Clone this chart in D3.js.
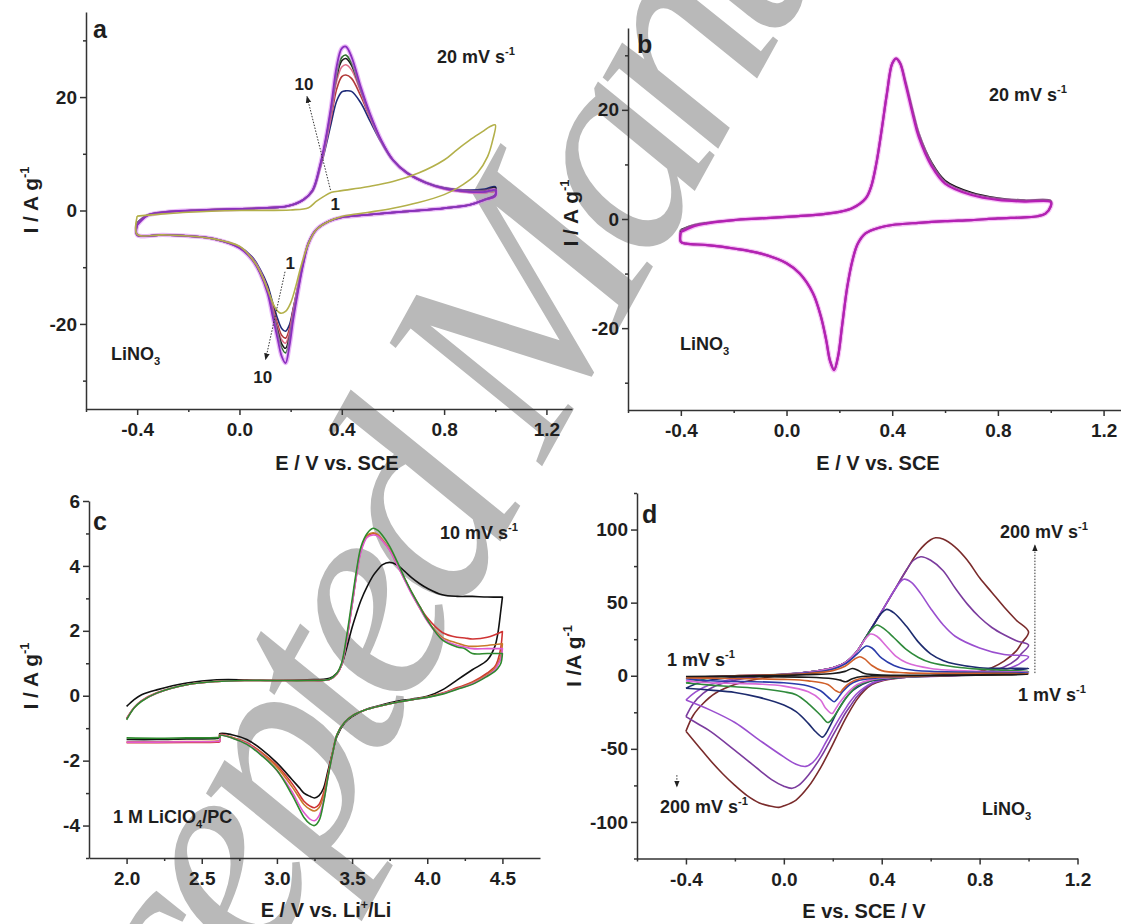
<!DOCTYPE html>
<html><head><meta charset="utf-8">
<script src="https://cdn.jsdelivr.net/npm/d3@7"></script>
<style>
body{margin:0;background:#fff}
svg{display:block}
text{font-family:"Liberation Sans",Arial,sans-serif;font-weight:bold;fill:#1e1e1e}
.axis path,.axis line{stroke:#333;stroke-width:1.5}
.axis text{font-size:19px;font-family:"Liberation Sans",Arial,sans-serif;font-weight:bold;fill:#1e1e1e}
</style>
</head><body>
<svg id="chart" width="1121" height="924"></svg>
<script>
// ---------- Panel a : cycles 1..10, 20 mV/s, LiNO3 ----------
const aFwdE = [-0.4,-0.36,-0.29,-0.19,-0.07,0.075,0.19,0.25,0.286,0.314,0.336,0.358,0.38,0.40,0.416,0.438,0.474,0.51,0.554,0.6,0.655,0.728,0.8,0.9,0.96,1.0];
const aRevE = [1.0,0.96,0.9,0.8,0.7,0.6,0.5,0.4,0.35,0.3,0.27,0.25,0.23,0.21,0.195,0.18,0.165,0.15,0.13,0.11,0.08,0.05,0.0,-0.1,-0.2,-0.3,-0.4];
const aNavyFwd   = [-2.2,-0.8,-0.25,0,0.2,0.4,0.8,1.9,3.4,7.2,11.0,15.3,19.3,20.9,21.1,21.0,19.0,15.8,12.0,8.8,6.6,4.9,4.0,3.6,3.8,4.2];
const aNavyRev   = [2.8,2.0,1.0,0.4,0,-0.35,-0.76,-1.2,-1.9,-3.4,-5.6,-8.8,-13,-17.3,-20.2,-21.3,-20.8,-19.2,-16.3,-13.2,-10.3,-8.2,-6.4,-5,-4.5,-4.3,-4.3];
const aRedFwd    = [-2.5,-0.9,-0.3,0,0.2,0.4,0.8,1.9,3.5,7.4,11.5,16.3,21.4,23.6,23.9,23.3,20.2,16.4,12.2,8.9,6.6,4.9,3.8,3.2,3.1,3.3];
const aRedRev    = [2.5,1.9,1.0,0.4,0,-0.35,-0.76,-1.2,-1.9,-3.4,-5.7,-8.9,-13.1,-17.5,-20.9,-22.5,-22.0,-20.2,-17.0,-13.7,-10.6,-8.4,-6.5,-5,-4.5,-4.3,-4.3];
const aPinkFwd   = [-2.5,-0.9,-0.3,0,0.2,0.4,0.8,1.9,3.5,7.5,11.8,17.0,22.8,25.3,25.7,24.8,20.9,16.7,12.3,8.9,6.6,4.9,3.8,3.2,3.1,3.3];
const aPinkRev   = [2.5,1.9,1.0,0.4,0,-0.35,-0.76,-1.2,-1.9,-3.4,-5.7,-9.0,-13.3,-17.9,-21.6,-23.4,-22.8,-20.8,-17.4,-13.9,-10.7,-8.5,-6.5,-5,-4.5,-4.3,-4.3];
const aBlackFwd  = [-2.2,-0.8,-0.25,0,0.2,0.4,0.8,1.9,3.5,7.6,12.0,17.5,23.6,26.4,26.8,25.6,21.2,16.8,12.3,8.9,6.7,5.0,4.0,3.5,3.6,4.0];
const aBlackRev  = [2.8,2.0,1.0,0.4,0,-0.35,-0.76,-1.2,-1.9,-3.4,-5.7,-9.1,-13.5,-18.3,-22.3,-24.3,-23.5,-21.3,-17.8,-14.1,-10.8,-8.5,-6.5,-5,-4.5,-4.3,-4.3];
const aGreenFwd  = [-2.5,-0.9,-0.3,0,0.2,0.4,0.8,1.9,3.6,7.7,12.2,17.8,24.2,27.0,27.4,26.0,21.4,16.9,12.3,8.9,6.6,4.9,3.9,3.3,3.2,3.4];
const aGreenRev  = [2.5,1.9,1.0,0.4,0,-0.35,-0.76,-1.2,-1.9,-3.4,-5.8,-9.2,-13.7,-18.7,-22.9,-25.1,-24.2,-21.8,-18.1,-14.3,-10.9,-8.6,-6.6,-5,-4.5,-4.3,-4.3];
const aPurpleFwd = [-2.6,-0.9,-0.3,0,0.2,0.4,0.8,1.9,3.6,7.8,12.4,18.3,25.4,28.6,28.9,27.1,21.8,17.1,12.4,8.9,6.6,4.9,3.9,3.3,3.3,3.6];
const aPurpleRev = [2.6,1.9,1.0,0.4,0,-0.35,-0.76,-1.2,-1.9,-3.4,-5.8,-9.3,-14,-19.3,-24,-26.9,-25.7,-22.8,-18.7,-14.6,-11,-8.7,-6.6,-5,-4.5,-4.3,-4.3];
const aCyc1FwdE = [-0.4,-0.3,-0.2,0,0.2,0.27,0.3,0.33,0.36,0.4,0.5,0.6,0.7,0.8,0.85,0.9,0.95,0.98,1.0];
const aCyc1FwdI = [-1.0,-0.6,-0.3,0,0.1,0.5,1.6,2.5,3.2,3.5,4.2,5.1,6.6,8.9,10.7,12.4,13.9,14.8,15.1];
const aCyc1RevE = [0.99,0.97,0.93,0.9,0.85,0.8,0.7,0.6,0.5,0.4,0.35,0.3,0.27,0.24,0.22,0.2,0.18,0.16,0.14,0.12,0.1,0.07,0.03,0,-0.1,-0.2,-0.3,-0.4];
const aCyc1RevI = [12.4,9.5,6.6,5.4,3.9,2.8,1.4,0.4,-0.35,-1.06,-1.9,-3.4,-5.8,-9.9,-13.4,-16.3,-17.8,-18.1,-17.2,-15.1,-12.8,-9.9,-7.5,-6.3,-5,-4.5,-4.3,-4.2];

// ---------- Panel b : 20 mV/s, LiNO3 ----------
const bFwdE = [-0.4,-0.35,-0.3,-0.2,-0.1,0,0.1,0.2,0.25,0.3,0.32,0.34,0.36,0.38,0.4,0.415,0.43,0.45,0.48,0.5,0.55,0.6,0.7,0.8,0.9,1.0];
const bRevE = [1.0,0.98,0.95,0.9,0.8,0.7,0.6,0.5,0.4,0.35,0.3,0.27,0.25,0.23,0.21,0.195,0.18,0.165,0.15,0.13,0.1,0.05,0.0,-0.1,-0.2,-0.3,-0.38,-0.4];
const bBlackFwd   = [-2.0,-1.1,-0.7,-0.2,0.1,0.4,0.7,1.3,2.0,3.8,5.9,10.2,16.3,23,28.5,29.4,28.6,25.2,19.3,15.7,10.2,7.0,4.8,3.8,3.4,3.3];
const bBlackRev   = [2.3,1.0,0.5,0.3,0.1,-0.2,-0.4,-0.7,-1.1,-1.6,-2.6,-4.5,-7.5,-12.4,-19.7,-25.2,-27.6,-26.0,-22.1,-17.8,-13.6,-10,-8.1,-6.3,-5.4,-4.8,-4.5,-4.2];
const bMagentaFwd = [-2.4,-1.3,-0.8,-0.2,0.1,0.4,0.7,1.3,2.0,3.8,5.9,10.2,16.3,23,28.5,29.4,28.5,24.8,18.7,15.1,9.6,6.5,4.4,3.5,3.2,3.1];
const bMagentaRev = [2.3,1.0,0.5,0.3,0.1,-0.2,-0.4,-0.7,-1.1,-1.6,-2.6,-4.5,-7.5,-12.4,-19.7,-25.2,-27.7,-26.1,-22.2,-17.9,-13.6,-10,-8.1,-6.3,-5.4,-4.8,-4.5,-4.2];

// ---------- Panel c : 10 mV/s, 1 M LiClO4/PC ----------
const cFwdE = [2.0,2.05,2.1,2.2,2.4,2.6,2.8,3.0,3.2,3.35,3.4,3.43,3.46,3.5,3.53,3.56,3.6,3.64,3.67,3.7,3.75,3.8,3.85,3.9,3.95,4.0,4.1,4.2,4.25,4.3,4.4,4.5];
const cRevE = [4.5,4.49,4.47,4.45,4.4,4.3,4.2,4.1,4.0,3.9,3.8,3.7,3.6,3.5,3.45,3.4,3.37,3.34,3.31,3.28,3.25,3.22,3.18,3.15,3.1,3.0,2.9,2.8,2.7,2.62,2.62,2.6,2.4,2.2,2.0];
const cBlackFwd  = [-0.33,-0.12,0.03,0.18,0.39,0.49,0.49,0.47,0.49,0.54,0.7,0.95,1.4,2.1,2.55,2.95,3.36,3.7,3.88,4.03,4.11,4.03,3.83,3.62,3.45,3.31,3.11,3.06,3.06,3.06,3.04,3.04];
const cBlackRev  = [3.04,2.65,1.93,1.52,1.1,0.8,0.49,0.18,-0.02,-0.1,-0.17,-0.28,-0.41,-0.64,-0.84,-1.25,-1.76,-2.3,-2.85,-3.08,-3.15,-3.1,-3.0,-2.84,-2.58,-2.07,-1.66,-1.35,-1.2,-1.17,-1.3,-1.32,-1.33,-1.35,-1.35];
const cRedFwd    = [-0.7,-0.36,-0.15,0.09,0.34,0.44,0.47,0.47,0.47,0.5,0.68,0.95,1.6,2.8,3.75,4.5,4.92,5.0,4.95,4.8,4.5,4.05,3.6,3.15,2.75,2.4,1.95,1.8,1.78,1.75,1.8,1.98];
const cRedRev    = [1.98,1.5,1.1,0.9,0.7,0.42,0.25,0.08,-0.04,-0.12,-0.2,-0.3,-0.42,-0.62,-0.82,-1.2,-1.75,-2.4,-3.0,-3.35,-3.45,-3.4,-3.25,-3.05,-2.7,-2.15,-1.75,-1.45,-1.28,-1.2,-1.42,-1.43,-1.44,-1.45,-1.45];
const cOrangeFwd = [-0.72,-0.37,-0.16,0.08,0.34,0.44,0.47,0.47,0.47,0.5,0.68,0.95,1.62,2.82,3.78,4.52,4.94,5.02,4.97,4.82,4.5,4.05,3.58,3.12,2.7,2.32,1.8,1.62,1.55,1.52,1.55,1.6];
const cOrangeRev = [1.6,1.25,1.0,0.85,0.65,0.4,0.22,0.07,-0.04,-0.12,-0.2,-0.3,-0.42,-0.62,-0.82,-1.2,-1.78,-2.45,-3.1,-3.45,-3.55,-3.5,-3.35,-3.15,-2.8,-2.2,-1.78,-1.47,-1.29,-1.21,-1.38,-1.4,-1.41,-1.42,-1.42];
const cPinkFwd   = [-0.72,-0.37,-0.16,0.08,0.34,0.44,0.47,0.47,0.47,0.5,0.68,0.95,1.6,2.78,3.72,4.45,4.88,4.95,4.92,4.78,4.48,4.03,3.56,3.1,2.7,2.3,1.75,1.55,1.5,1.45,1.45,1.45];
const cPinkRev   = [1.45,1.15,0.95,0.8,0.62,0.37,0.21,0.06,-0.05,-0.12,-0.2,-0.3,-0.42,-0.62,-0.82,-1.2,-1.8,-2.5,-3.25,-3.7,-3.85,-3.8,-3.6,-3.38,-2.95,-2.3,-1.82,-1.48,-1.3,-1.22,-1.4,-1.41,-1.42,-1.43,-1.43];
const cGreenFwd  = [-0.74,-0.38,-0.17,0.08,0.34,0.44,0.47,0.47,0.47,0.51,0.7,1.0,1.72,2.95,3.88,4.6,5.0,5.16,5.1,4.95,4.6,4.13,3.62,3.16,2.75,2.34,1.72,1.5,1.45,1.3,1.3,1.3];
const cGreenRev  = [1.3,1.0,0.85,0.75,0.6,0.35,0.2,0.05,-0.05,-0.12,-0.2,-0.3,-0.42,-0.62,-0.82,-1.2,-1.8,-2.5,-3.3,-3.85,-4.0,-3.95,-3.75,-3.5,-3.05,-2.3,-1.85,-1.5,-1.3,-1.22,-1.28,-1.29,-1.3,-1.31,-1.3];

// ---------- Panel d : 1 .. 200 mV/s, LiNO3 ([E, I] pairs, forward then reverse) ----------
const d200 = [[-0.4,-38],[-0.37,-27],[-0.33,-19],[-0.28,-12],[-0.2,-6],[-0.1,-2],[0,0.5],[0.1,2.5],[0.2,5.5],[0.25,9],[0.3,17],[0.33,25],[0.36,33],[0.4,44],[0.45,58],[0.5,72],[0.55,85],[0.6,93],[0.62,94.4],[0.65,93.5],[0.7,88],[0.75,79],[0.8,67],[0.85,57],[0.9,47],[0.95,38],[1.0,30],
  [0.97,22],[0.95,17],[0.9,10],[0.85,5.5],[0.8,3],[0.7,1],[0.6,0],[0.5,-1],[0.45,-2],[0.4,-3.5],[0.36,-6],[0.33,-10],[0.3,-16],[0.27,-24],[0.25,-30],[0.22,-40],[0.2,-47],[0.15,-63],[0.1,-76],[0.05,-85],[0,-89],[-0.02,-90],[-0.06,-89],[-0.1,-87],[-0.15,-82],[-0.2,-75],[-0.25,-67],[-0.3,-58],[-0.35,-48],[-0.4,-38]];
const d150 = [[-0.4,-28],[-0.37,-19],[-0.33,-12],[-0.28,-7],[-0.2,-3],[-0.1,-0.5],[0,1],[0.1,2.5],[0.2,5.5],[0.25,9],[0.3,17],[0.33,25],[0.36,33],[0.4,44],[0.45,58],[0.5,72],[0.53,79],[0.56,81.4],[0.6,79],[0.65,72],[0.7,60],[0.75,49],[0.8,40],[0.85,33],[0.9,28],[0.95,24],[1.0,21],
  [0.97,15],[0.95,11],[0.9,6],[0.8,2],[0.6,0],[0.5,-1],[0.4,-3],[0.36,-5.5],[0.33,-9],[0.3,-14],[0.27,-21],[0.25,-26],[0.22,-35],[0.2,-41],[0.15,-56],[0.1,-68],[0.06,-75],[0.034,-77],[0,-75.5],[-0.05,-71],[-0.1,-64.5],[-0.2,-51],[-0.3,-38],[-0.35,-33],[-0.4,-28]];
const d100 = [[-0.4,-16.6],[-0.36,-11],[-0.3,-6],[-0.2,-2],[-0.1,0],[0,1],[0.1,2.5],[0.2,5.5],[0.25,9],[0.3,17],[0.33,25],[0.36,33],[0.4,44],[0.45,58],[0.49,66],[0.52,64],[0.56,56],[0.6,46],[0.65,35],[0.7,27],[0.8,19],[0.9,14.5],[1.0,13],
  [0.97,9],[0.95,7],[0.9,4],[0.8,1.5],[0.7,0],[0.5,-1],[0.4,-3],[0.36,-5],[0.33,-8],[0.3,-12],[0.27,-18],[0.25,-23],[0.22,-31],[0.2,-37],[0.17,-46],[0.14,-55],[0.12,-59],[0.09,-62],[0.05,-60.5],[0,-55.5],[-0.1,-44],[-0.2,-32],[-0.3,-23.5],[-0.4,-16.6]];
const d50 = [[-0.4,-8.5],[-0.35,-5],[-0.3,-3],[-0.2,-1],[0,1],[0.1,2.5],[0.2,5.5],[0.25,9],[0.3,17],[0.33,25],[0.36,33],[0.4,43],[0.42,45.4],[0.45,43],[0.5,34],[0.55,23],[0.6,15],[0.65,10.5],[0.7,8],[0.8,5.5],[0.9,5],[1.0,5],
  [0.95,4],[0.9,2.5],[0.8,1],[0.6,0],[0.5,-0.8],[0.4,-2.5],[0.35,-4],[0.3,-8],[0.27,-12],[0.25,-16],[0.22,-24],[0.19,-34],[0.17,-40],[0.158,-42],[0.13,-38.3],[0.1,-32.6],[0.05,-24.6],[0,-20],[-0.1,-14.8],[-0.2,-11.4],[-0.3,-9.8],[-0.4,-8.5]];
const d30 = [[-0.4,-5],[-0.3,-1.5],[-0.2,0],[0,1],[0.1,2.5],[0.2,5.5],[0.25,9],[0.3,17],[0.33,25],[0.36,32],[0.38,34.7],[0.41,32],[0.45,26],[0.5,18],[0.55,12.5],[0.6,9],[0.7,6],[0.8,4.5],[1.0,3],
  [0.95,2.5],[0.8,1],[0.6,-0.3],[0.4,-2],[0.35,-3.5],[0.3,-7],[0.26,-14],[0.22,-24],[0.2,-29],[0.18,-32],[0.15,-27],[0.1,-19],[0.05,-13],[0,-11],[-0.1,-8.7],[-0.2,-7.5],[-0.3,-6.4],[-0.4,-5]];
const d20 = [[-0.4,-3.5],[-0.3,-1],[-0.2,0],[0,1],[0.1,2.5],[0.2,5.5],[0.25,9],[0.3,17],[0.33,24.5],[0.355,28.5],[0.38,27],[0.42,20],[0.46,13],[0.5,9],[0.6,5],[0.8,3],[1.0,2.5],
  [0.95,2],[0.8,1],[0.6,-0.3],[0.45,-1],[0.35,-3],[0.3,-6],[0.27,-10],[0.23,-18],[0.21,-23],[0.197,-25.8],[0.17,-22],[0.15,-16.6],[0.1,-11],[0,-7.1],[-0.1,-5.7],[-0.3,-4.8],[-0.4,-3.5]];
const d10 = [[-0.4,-2],[-0.3,-0.5],[0,0.8],[0.1,2],[0.2,4.5],[0.25,8],[0.3,15],[0.337,20.3],[0.36,19],[0.4,12],[0.45,7],[0.5,4.5],[0.6,3],[1.0,2],
  [0.95,1.5],[0.8,0.5],[0.5,-0.5],[0.35,-2],[0.3,-3.5],[0.27,-6],[0.24,-11],[0.22,-15.5],[0.206,-17.8],[0.19,-16],[0.15,-10.3],[0.1,-7],[0,-4.8],[-0.3,-3.4],[-0.4,-2]];
const d5 = [[-0.4,-1.5],[-0.2,0],[0,0.8],[0.1,1.5],[0.2,3.5],[0.25,6.5],[0.29,11.5],[0.311,13],[0.33,11.5],[0.36,7],[0.4,3.5],[0.5,2],[1.0,1.5],
  [0.95,1],[0.6,0],[0.5,-0.5],[0.33,-1.5],[0.29,-3],[0.26,-6],[0.24,-9.5],[0.23,-11.4],[0.21,-10],[0.18,-6],[0.1,-3.5],[0,-2.5],[-0.4,-1.5]];
const d1 = [[-0.4,-0.5],[0,0.3],[0.1,0.8],[0.2,1.5],[0.25,3],[0.28,5],[0.3,4],[0.33,1.5],[0.4,0.5],[1.0,1],
  [0.9,0.5],[0.5,0],[0.32,-0.5],[0.28,-2],[0.253,-4.1],[0.23,-3],[0.2,-2],[0.1,-1],[-0.4,-0.5]];

// tick values
const tickE_SCE = [-0.4,0.0,0.4,0.8,1.2];
const tickE_Li = [2.0,2.5,3.0,3.5,4.0,4.5];
const tickI_ab = [-20,0,20];
const tickI_c = [-4,-2,0,2,4,6];
const tickI_d = [-100,-50,0,50,100];

// ================= drawing =================
const svg = d3.select("#chart");
const zip = (E, I) => E.map((e, i) => [e, I[i]]);

// watermark (behind everything)
svg.append("text")
  .attr("transform", "translate(80,1300) rotate(-61)")
  .attr("text-anchor", "start")
  .style("font-family", '"Liberation Serif","Times New Roman",serif')
  .style("font-weight", "normal")
  .style("font-style", "italic")
  .style("font-size", "295px")
  .style("letter-spacing", "-22px")
  .style("fill", "#b9b9b9")
  .text("Accepted Manuscript");

const defs = svg.append("defs");
defs.append("marker").attr("id", "ah").attr("viewBox", "0 0 10 10").attr("refX", 9).attr("refY", 5)
  .attr("markerWidth", 7).attr("markerHeight", 7).attr("orient", "auto-start-reverse")
  .append("path").attr("d", "M0,1 L10,5 L0,9 z").attr("fill", "#222");

function makePanel(o) {
  const x = d3.scaleLinear().domain(o.xd).range(o.xr);
  const y = d3.scaleLinear().domain(o.yd).range(o.yr);
  const g = svg.append("g");
  const fmtX = d => d.toFixed(1);
  const fmtY = d => String(d);
  g.append("g").attr("class", "axis").attr("transform", `translate(0,${o.yr[0]})`)
    .call(d3.axisBottom(x).tickValues(o.xMinor).tickSize(3).tickSizeOuter(0).tickFormat(""))
    .select(".domain").remove();
  g.append("g").attr("class", "axis").attr("transform", `translate(${o.xr[0]},0)`)
    .call(d3.axisLeft(y).tickValues(o.yMinor).tickSize(3).tickSizeOuter(0).tickFormat(""))
    .select(".domain").remove();
  g.append("g").attr("class", "axis").attr("transform", `translate(0,${o.yr[0]})`)
    .call(d3.axisBottom(x).tickValues(o.xMajor).tickSize(6).tickPadding(8).tickSizeOuter(0).tickFormat(fmtX));
  g.append("g").attr("class", "axis").attr("transform", `translate(${o.xr[0]},0)`)
    .call(d3.axisLeft(y).tickValues(o.yMajor).tickSize(6).tickPadding(3).tickSizeOuter(0).tickFormat(fmtY));
  const line = d3.line().x(d => x(d[0])).y(d => y(d[1])).curve(d3.curveCatmullRom.alpha(0.5));
  return {x, y, g, line};
}

function rich(g, px, py, parts, size, anchor, rot) {
  const t = g.append("text").attr("font-size", size).attr("text-anchor", anchor || "start");
  if (rot) t.attr("transform", `translate(${px},${py}) rotate(${rot})`);
  else t.attr("x", px).attr("y", py);
  let shift = 0;
  parts.forEach(p => {
    const [s, kind] = p;
    let target = 0;
    if (kind === "sup") target = -size * 0.42;
    if (kind === "sub") target = size * 0.28;
    const ts = t.append("tspan").text(s).attr("dy", target - shift);
    if (kind) ts.attr("font-size", size * 0.62);
    shift = target;
  });
  return t;
}

function drawCurve(P, pts, color, w, halo) {
  if (halo) P.g.append("path").datum(pts).attr("d", P.line).attr("fill", "none")
    .attr("stroke", halo).attr("stroke-width", w + 2.6).attr("stroke-opacity", 0.55).attr("stroke-linejoin", "round");
  P.g.append("path").datum(pts).attr("d", P.line).attr("fill", "none")
    .attr("stroke", color).attr("stroke-width", w).attr("stroke-linejoin", "round");
}

function dotted(P, p0, p1, head) {
  const l = P.g.append("line").attr("x1", P.x(p0[0])).attr("y1", P.y(p0[1])).attr("x2", P.x(p1[0])).attr("y2", P.y(p1[1]))
    .attr("stroke", "#333").attr("stroke-width", 1).attr("stroke-dasharray", "1.5,1.5");
  if (head) l.attr("marker-end", "url(#ah)");
}

// ---------- Panel a ----------
const A = makePanel({xd: [-0.6, 1.3], xr: [86, 572], yd: [-35, 35], yr: [409, 12],
  xMajor: tickE_SCE, xMinor: [-0.6,-0.2,0.2,0.6,1.0], yMajor: tickI_ab, yMinor: [-30,-10,10,30]});
const loopA = (f, r) => zip(aFwdE, f).concat(zip(aRevE, r)).concat([[aFwdE[0], f[0]]]);
drawCurve(A, loopA(aNavyFwd, aNavyRev), "#1f2b78", 1.6);
drawCurve(A, loopA(aRedFwd, aRedRev), "#b23a3a", 1.6);
drawCurve(A, loopA(aPinkFwd, aPinkRev), "#e0708a", 1.6);
drawCurve(A, loopA(aBlackFwd, aBlackRev), "#1a1a1a", 1.6);
drawCurve(A, loopA(aGreenFwd, aGreenRev), "#2f6e2f", 1.6);
drawCurve(A, loopA(aPurpleFwd, aPurpleRev), "#8a2fbf", 1.8, "#d77cf0");
drawCurve(A, zip(aCyc1FwdE, aCyc1FwdI).concat(zip(aCyc1RevE, aCyc1RevI)).concat([[aCyc1FwdE[0], aCyc1FwdI[0]]]), "#b3b04a", 1.6);
dotted(A, [0.356, 3.6], [0.264, 20.1], true);
dotted(A, [0.178, -10.8], [0.102, -26.3], true);
rich(A.g, A.x(0.252), A.y(22.3) + 6, [["10"]], 17, "middle");
rich(A.g, A.x(0.374), A.y(1.2) + 6, [["1"]], 17, "middle");
rich(A.g, A.x(0.198), A.y(-9.2) + 6, [["1"]], 17, "middle");
rich(A.g, A.x(0.091), A.y(-29.3) + 6, [["10"]], 17, "middle");
rich(A.g, 93, 38, [["a"]], 25);
rich(A.g, 437, 63, [["20 mV s"], ["-1", "sup"]], 18);
rich(A.g, 111, 360, [["LiNO"], ["3", "sub"]], 18);
rich(A.g, 38, 200, [["I / A g"], ["-1", "sup"]], 21, "middle", -90);
rich(A.g, 337, 470, [["E / V vs. SCE"]], 20, "middle");

// ---------- Panel b ----------
const B = makePanel({xd: [-0.6, 1.3], xr: [628, 1130], yd: [-35, 35], yr: [410, 28],
  xMajor: tickE_SCE, xMinor: [-0.6,-0.2,0.2,0.6,1.0], yMajor: tickI_ab, yMinor: [-30,-10,10,30]});
drawCurve(B, zip(bFwdE, bBlackFwd).concat(zip(bRevE, bBlackRev)).concat([[bFwdE[0], bBlackFwd[0]]]), "#111", 2.2);
drawCurve(B, zip(bFwdE, bMagentaFwd).concat(zip(bRevE, bMagentaRev)).concat([[bFwdE[0], bMagentaFwd[0]]]), "#b51fb5", 2.2, "#f08cf0");
rich(B.g, 637, 53, [["b"]], 25);
rich(B.g, 989, 101, [["20 mV s"], ["-1", "sup"]], 18);
rich(B.g, 680, 350, [["LiNO"], ["3", "sub"]], 18);
rich(B.g, 578, 213, [["I / A g"], ["-1", "sup"]], 21, "middle", -90);
rich(B.g, 878, 470, [["E / V vs. SCE"]], 20, "middle");

// ---------- Panel c ----------
const C = makePanel({xd: [1.75, 4.75], xr: [89, 540], yd: [-5, 6], yr: [858, 501],
  xMajor: tickE_Li, xMinor: [2.25,2.75,3.25,3.75,4.25], yMajor: tickI_c, yMinor: [-5,-3,-1,1,3,5]});
const loopC = (f, r) => zip(cFwdE, f).concat(zip(cRevE, r));
drawCurve(C, loopC(cBlackFwd, cBlackRev), "#111", 1.6);
drawCurve(C, loopC(cRedFwd, cRedRev), "#cf3434", 1.6);
drawCurve(C, loopC(cOrangeFwd, cOrangeRev), "#c97a2a", 1.6);
drawCurve(C, loopC(cPinkFwd, cPinkRev), "#e05ad0", 1.6);
drawCurve(C, loopC(cGreenFwd, cGreenRev), "#2e8a2e", 1.6);
rich(C.g, 93, 530, [["c"]], 25);
rich(C.g, 440, 539, [["10 mV s"], ["-1", "sup"]], 18);
rich(C.g, 113, 823, [["1 M LiClO"], ["4", "sub"], ["/PC"]], 18);
rich(C.g, 38, 676, [["I / A g"], ["-1", "sup"]], 21, "middle", -90);
rich(C.g, 326, 917, [["E / V vs. Li"], ["+", "sup"], ["/Li"]], 20, "middle");

// ---------- Panel d ----------
const D = makePanel({xd: [-0.6, 1.2], xr: [637, 1077.5], yd: [-125, 125], yr: [858.5, 493],
  xMajor: tickE_SCE, xMinor: [-0.6,-0.2,0.2,0.6,1.0], yMajor: tickI_d, yMinor: [-125,-75,-25,25,75,125]});
const dCurves = [[d200, "#7a2b2b"], [d150, "#7b3c9e"], [d100, "#9a4fcf"], [d50, "#1d2b6e"], [d30, "#2f8a3b"],
  [d20, "#d86ad8"], [d10, "#2b3caa"], [d5, "#d0602a"], [d1, "#1a1a1a"]];
dCurves.forEach(([pts, col]) => drawCurve(D, pts, col, 1.6));
dotted(D, [1.026, 1.8], [1.026, 89.4], true);
dotted(D, [-0.437, -68], [-0.437, -76], true);
rich(D.g, 642, 523, [["d"]], 25);
rich(D.g, 1000, 538, [["200 mV s"], ["-1", "sup"]], 18);
rich(D.g, 1018, 701, [["1 mV s"], ["-1", "sup"]], 18);
rich(D.g, 667, 666, [["1 mV s"], ["-1", "sup"]], 18);
rich(D.g, 660, 813, [["200 mV s"], ["-1", "sup"]], 18);
rich(D.g, 982, 815, [["LiNO"], ["3", "sub"]], 18);
rich(D.g, 581, 656, [["I /A g"], ["-1", "sup"]], 21, "middle", -90);
rich(D.g, 864, 918, [["E vs. SCE / V"]], 20, "middle");
</script>
</body></html>
